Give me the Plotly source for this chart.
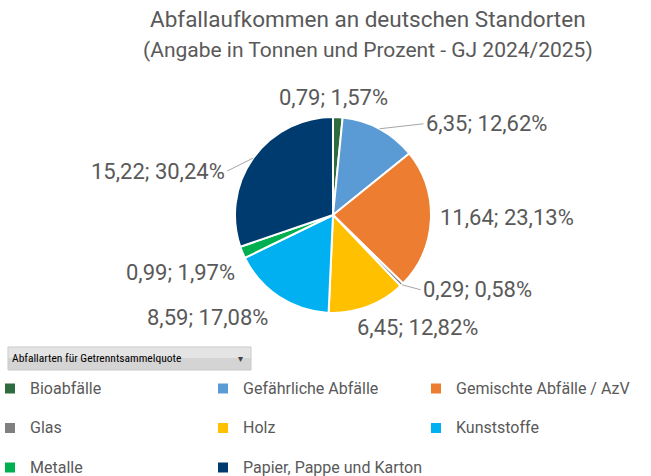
import math
import plotly.graph_objects as go

# ---- data ----
categories = ["Bioabfälle", "Gefährliche Abfälle", "Gemischte Abfälle / AzV", "Glas",
              "Holz", "Kunststoffe", "Metalle", "Papier, Pappe und Karton"]
tonnes = [0.79, 6.35, 11.64, 0.29, 6.45, 8.59, 0.99, 15.22]
percent_labels = ["1,57%", "12,62%", "23,13%", "0,58%", "12,82%", "17,08%", "1,97%", "30,24%"]
colors = ["#2E6B3E", "#5B9BD5", "#ED7D31", "#808080", "#FFC000", "#00B0F0", "#00B050", "#003B6F"]

title_lines = ["Abfallaufkommen an deutschen Standorten",
               "(Angabe in Tonnen und Prozent - GJ 2024/2025)"]
filter_label = "Abfallarten für Getrenntsammelquote"

W, H = 651, 476
FONT = "Roboto"
GREY = "#595959"

# pie geometry (pixels)
PCX, PCY, R = 333, 215, 98
cx, cy = PCX / W, (H - PCY) / H

fig = go.Figure()
fig.add_trace(go.Pie(
    labels=[f'<span style="font-size:16px">{c}</span><br> ' for c in categories],
    values=tonnes,
    sort=False,
    direction="clockwise",
    rotation=0,
    marker=dict(colors=colors, line=dict(color="white", width=2)),
    textinfo="none",
    hoverinfo="value+percent",
    domain=dict(x=[(PCX - R) / W, (PCX + R) / W], y=[(H - PCY - R) / H, (H - PCY + R) / H]),
))

# data labels, anchored to slice edge at mid-angle (computed from data)
total = sum(tonnes)
# per-label offset (pixels) from the slice edge point, anchor, leader line
label_layout = [
    (-4, -20, "center", False),
    (44, -5, "left", True),
    (7, -2, "left", False),
    (19, 5, "left", True),
    (-12, 21, "left", False),
    (-9, 21, "right", False),
    (-5, 20, "right", False),
    (-26, 13, "right", True),
]
cum = 0.0
annotations = []
for v, p, (dx, dy, xa, line) in zip(tonnes, percent_labels, label_layout):
    mid = cum + v / 2
    cum += v
    theta = math.radians(90 - 360 * mid / total)
    ex = cx + R * math.cos(theta) / W
    ey = cy + R * math.sin(theta) / H
    txt = f"{v:.2f}".replace(".", ",") + "; " + p
    annotations.append(dict(
        x=ex, y=ey, xref="paper", yref="paper",
        text=txt, showarrow=True, ax=dx, ay=dy,
        xanchor=xa, yanchor="middle",
        arrowhead=0, arrowwidth=1,
        arrowcolor="#A6A6A6" if line else "rgba(0,0,0,0)",
        standoff=0, startstandoff=0,
        font=dict(family=FONT, size=22, color=GREY),
    ))

# title (two lines)
for line_txt, ypix, fsize in zip(title_lines, [19, 50], [22.5, 21]):
    annotations.append(dict(
        x=368 / W, y=1 - ypix / H, xref="paper", yref="paper",
        text=line_txt, showarrow=False,
        xanchor="center", yanchor="middle",
        font=dict(family=FONT, size=fsize, color=GREY),
    ))

# filter button
annotations.append(dict(
    x=10 / W, y=1 - 358 / H, xref="paper", yref="paper",
    text=filter_label, showarrow=False, xanchor="left", yanchor="middle",
    font=dict(family="Liberation Sans Narrow, Roboto Condensed, Roboto", size=11.5, color="#000000"),
))
annotations.append(dict(
    x=240 / W, y=1 - 358 / H, xref="paper", yref="paper",
    text="▾", showarrow=False, xanchor="center", yanchor="middle",
    font=dict(family=FONT, size=10, color="#404040"),
))

shapes = [
    dict(type="rect", xref="paper", yref="paper",
         x0=8 / W, x1=251 / W, y0=1 - 370 / H, y1=1 - 347 / H,
         fillcolor="#D4D4D4", line=dict(color="#C8C8C8", width=1), layer="below"),
    dict(type="rect", xref="paper", yref="paper",
         x0=8.5 / W, x1=250.5 / W, y0=1 - 358 / H, y1=1 - 347.5 / H,
         fillcolor="#E4E4E4", line=dict(width=0), layer="below"),
]

fig.update_layout(
    width=W, height=H,
    margin=dict(l=0, r=0, t=0, b=0, autoexpand=False),
    paper_bgcolor="white",
    showlegend=True,
    legend=dict(
        orientation="h", x=0, xanchor="left", y=1 - 373 / H, yanchor="top",
        entrywidth=178, entrywidthmode="pixels", indentation=-10,
        font=dict(family=FONT, size=14, color=GREY),
        valign="top", itemclick=False, itemdoubleclick=False,
        bgcolor="rgba(0,0,0,0)",
    ),
    annotations=annotations,
    shapes=shapes,
)

fig.write_html("out.html", config={"displayModeBar": False},
               post_script="document.body.style.margin='0';")
